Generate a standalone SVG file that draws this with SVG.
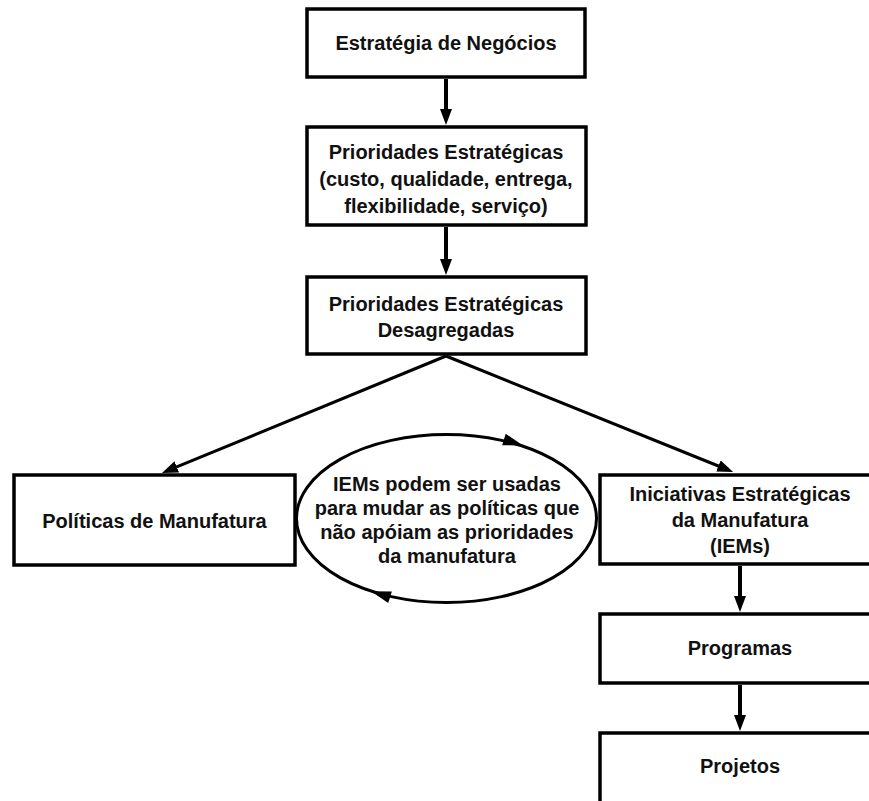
<svg xmlns="http://www.w3.org/2000/svg" width="869" height="801" viewBox="0 0 869 801">
  <style>
    .box { fill: #ffffff; stroke: #000000; stroke-width: 3.5; }
    .oval { fill: #ffffff; stroke: #000000; stroke-width: 3; }
    .lbl { font-family: "Liberation Sans", Arial, sans-serif; font-weight: bold; font-size: 20px; fill: #111111; text-anchor: middle; }
    .flow { stroke: #000000; stroke-width: 4; fill: none; }
    .diag { stroke: #000000; stroke-width: 3; fill: none; }
    .head { fill: #000000; }
  </style>
  <defs>
    <marker id="arrow" viewBox="0 0 16 12" refX="4" refY="6" markerWidth="16" markerHeight="12" markerUnits="userSpaceOnUse" orient="auto">
      <path d="M0,0 L16,6 L0,12 z" fill="#000000"/>
    </marker>
  </defs>

  <rect width="869" height="801" fill="#ffffff"/>

  <!-- connectors -->
  <g id="connectors">
    <line class="flow" x1="446" y1="79" x2="446" y2="113" marker-end="url(#arrow)"/>
    <line class="flow" x1="446" y1="227" x2="446" y2="263" marker-end="url(#arrow)"/>
    <line class="diag" x1="446" y1="356" x2="173.1" y2="468.4" marker-end="url(#arrow)"/>
    <line class="diag" x1="446" y1="356" x2="722.1" y2="467.5" marker-end="url(#arrow)"/>
    <line class="flow" x1="740" y1="566" x2="740" y2="600" marker-end="url(#arrow)"/>
    <line class="flow" x1="740" y1="685" x2="740" y2="719" marker-end="url(#arrow)"/>
  </g>

  <g id="n-estrategia">
    <rect class="box" x="307" y="9" width="278" height="68"/>
    <text class="lbl" x="446" y="50">Estratégia de Negócios</text>
  </g>

  <g id="n-prioridades">
    <rect class="box" x="307" y="127" width="279" height="98"/>
    <text class="lbl" x="446" y="159">Prioridades Estratégicas</text>
    <text class="lbl" x="446" y="186">(custo, qualidade, entrega,</text>
    <text class="lbl" x="446" y="213">flexibilidade, serviço)</text>
  </g>

  <g id="n-desagregadas">
    <rect class="box" x="307" y="277" width="279" height="77"/>
    <text class="lbl" x="446" y="311">Prioridades Estratégicas</text>
    <text class="lbl" x="446" y="337">Desagregadas</text>
  </g>

  <g id="n-politicas">
    <rect class="box" x="14" y="475" width="281" height="90"/>
    <text class="lbl" x="154.5" y="528">Políticas de Manufatura</text>
  </g>

  <g id="n-ciclo">
    <ellipse class="oval" cx="446.5" cy="518.5" rx="150" ry="84"/>
    <path class="head" transform="translate(523,445.5) rotate(17.5)" d="M0,0 L-20,-6 L-20,6 z"/>
    <path class="head" transform="translate(371,591.2) rotate(197.8)" d="M0,0 L-20,-6 L-20,6 z"/>
    <text class="lbl" x="447" y="491">IEMs podem ser usadas</text>
    <text class="lbl" x="447" y="515">para mudar as políticas que</text>
    <text class="lbl" x="447" y="539">não apóiam as prioridades</text>
    <text class="lbl" x="447" y="563">da manufatura</text>
  </g>

  <g id="n-iems">
    <rect class="box" x="600" y="475" width="282" height="89"/>
    <text class="lbl" x="740" y="501">Iniciativas Estratégicas</text>
    <text class="lbl" x="740" y="527">da Manufatura</text>
    <text class="lbl" x="740" y="553">(IEMs)</text>
  </g>

  <g id="n-programas">
    <rect class="box" x="600" y="614" width="282" height="69"/>
    <text class="lbl" x="740" y="655">Programas</text>
  </g>

  <g id="n-projetos">
    <rect class="box" x="600" y="733" width="282" height="90"/>
    <text class="lbl" x="740" y="773">Projetos</text>
  </g>
</svg>
